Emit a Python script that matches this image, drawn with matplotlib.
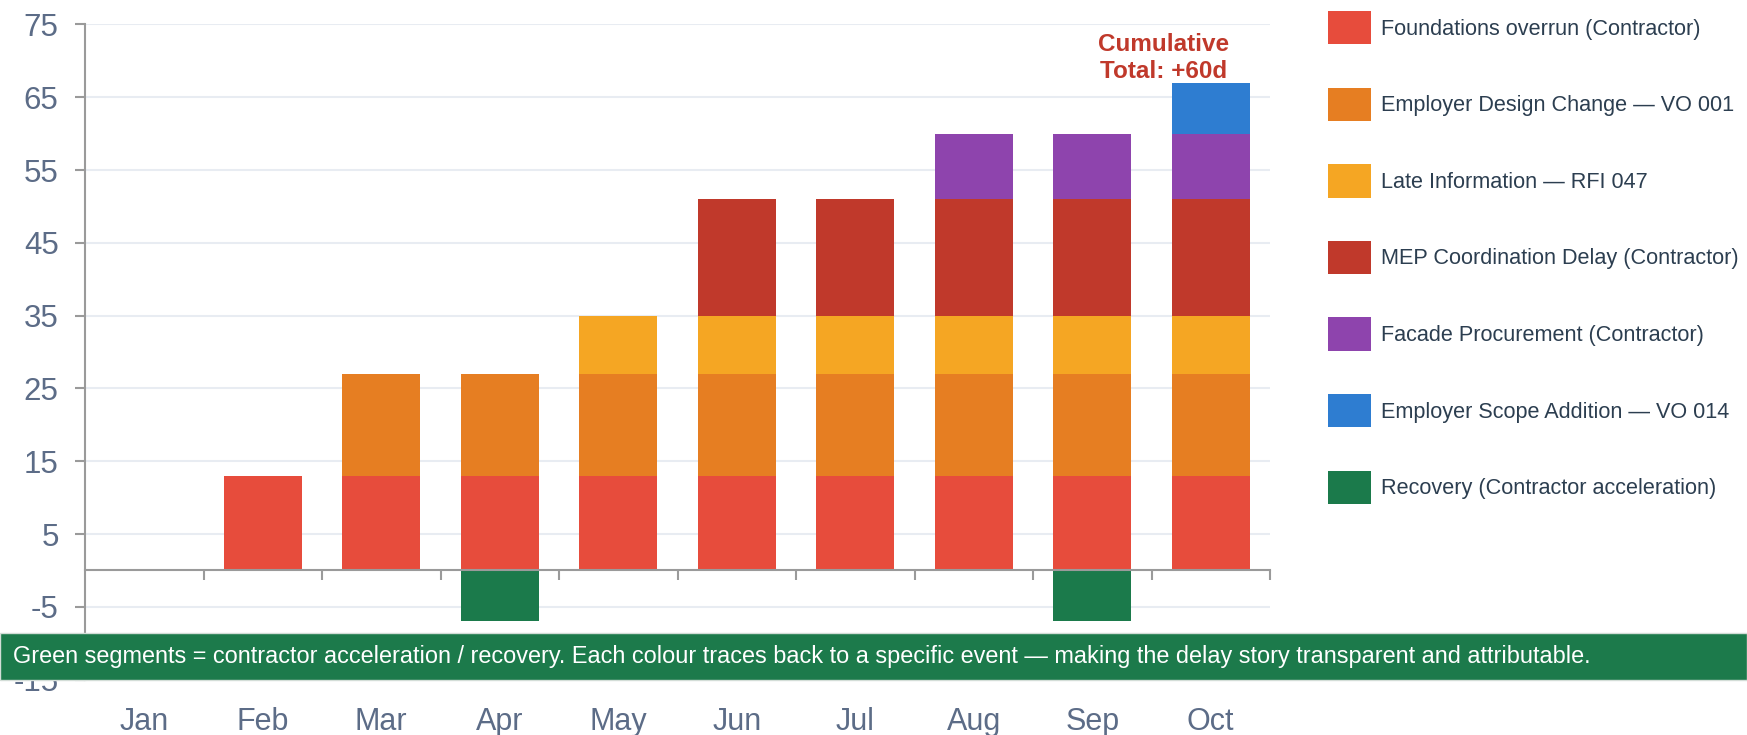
import matplotlib
matplotlib.use('Agg')
import matplotlib.pyplot as plt
from matplotlib.patches import Rectangle
import numpy as np

plt.rcParams['axes.unicode_minus'] = False
plt.rcParams['font.family'] = ['Liberation Sans', 'DejaVu Sans']

months = ['Jan', 'Feb', 'Mar', 'Apr', 'May', 'Jun', 'Jul', 'Aug', 'Sep', 'Oct']

foundations = [0, 13, 13, 13, 13, 13, 13, 13, 13, 13]
design_change = [0, 0, 14, 14, 14, 14, 14, 14, 14, 14]
late_info = [0, 0, 0, 0, 8, 8, 8, 8, 8, 8]
mep_delay = [0, 0, 0, 0, 0, 16, 16, 16, 16, 16]
facade = [0, 0, 0, 0, 0, 0, 0, 9, 9, 9]
scope_addition = [0, 0, 0, 0, 0, 0, 0, 0, 0, 7]
recovery = [0, 0, 0, -7, 0, 0, 0, 0, -7, 0]

series_names = ['Foundations overrun (Contractor)',
                'Employer Design Change \u2014 VO 001',
                'Late Information \u2014 RFI 047',
                'MEP Coordination Delay (Contractor)',
                'Facade Procurement (Contractor)',
                'Employer Scope Addition \u2014 VO 014',
                'Recovery (Contractor acceleration)']
series_colors = ['#e74c3c', '#e67e22', '#f5a623', '#c0392b', '#8e44ad', '#2e7dd1', '#1b7a4b']

total_label = 'Cumulative\nTotal: +60d'
banner_text = ('Green segments = contractor acceleration / recovery. Each colour traces back '
               'to a specific event \u2014 making the delay story transparent and attributable.')

tick_color = '#5c6c87'
axis_gray = '#9a9a9a'

fig = plt.figure(figsize=(17.47, 7.35), dpi=100)
ax = fig.add_axes([85 / 1747, 55.4 / 735, (1270 - 85) / 1747, (679.6 - 24.5) / 735])

x = np.arange(len(months))
width = 0.66
bottom = np.zeros(len(months))
positive = [foundations, design_change, late_info, mep_delay, facade, scope_addition]
for vals, name, col in zip(positive, series_names[:-1], series_colors[:-1]):
    vals = np.array(vals, dtype=float)
    ax.bar(x, vals, width, bottom=bottom, color=col, label=name, linewidth=0, zorder=2)
    bottom += vals
ax.bar(x, recovery, width, color=series_colors[-1], label=series_names[-1], linewidth=0, zorder=2)

ax.set_xlim(-0.5, len(months) - 0.5)
ax.set_ylim(-15, 75)
ax.set_yticks(np.arange(-15, 76, 10))
ax.yaxis.grid(True, color='#e8ecf2', linewidth=1.5)
ax.set_axisbelow(True)

for side in ['top', 'right']:
    ax.spines[side].set_visible(False)
ax.spines['left'].set_color(axis_gray)
ax.spines['left'].set_linewidth(1.5)
ax.spines['bottom'].set_position(('data', 0))
ax.spines['bottom'].set_color(axis_gray)
ax.spines['bottom'].set_linewidth(1.5)
ax.spines['bottom'].set_zorder(3)

ax.set_xticks(x[:-1] + 0.5)
ax.set_xticks([len(months) - 0.5], minor=True)
ax.xaxis.set_ticklabels([])
ax.tick_params(axis='x', which='both', direction='out', length=7, width=1.5, color=axis_gray)
ax.tick_params(axis='y', direction='out', length=7, width=1.5, color=axis_gray,
               labelsize=22.5, labelcolor=tick_color, pad=12)

sec = ax.secondary_xaxis('bottom')
sec.set_xticks(x, months)
sec.spines['bottom'].set_visible(False)
sec.tick_params(length=0, pad=20, labelsize=22, labelcolor=tick_color)
for lbl in sec.get_xticklabels():
    lbl.set_family(['Liberation Sans Narrow', 'Liberation Sans'])

oct_top = bottom[-1]
ax.text(x[-1] - 0.4, oct_top + 3.4, total_label, ha='center', va='center',
        fontsize=17.5, fontweight='bold', color='#c0392b', linespacing=1.2)

ax.legend(loc='upper left', bbox_to_anchor=(1328 / 1747, 1 - 11 / 735),
          bbox_transform=fig.transFigure, frameon=False, fontsize=15.6,
          handlelength=2.0, handleheight=2.0, labelspacing=1.99,
          handletextpad=0.45, borderpad=0, borderaxespad=0,
          labelcolor='#2c3e50')

fig.patches.append(Rectangle((0, 55 / 735), 1, 47 / 735, transform=fig.transFigure,
                             facecolor='#1c7a4b', edgecolor='#d3ddd7', linewidth=1,
                             zorder=5))
fig.text(13 / 1747, 1 - 656 / 735, banner_text, color='white', fontsize=16.9,
         va='center', ha='left', zorder=6)

plt.savefig('out.png', dpi=100)
plt.close()
